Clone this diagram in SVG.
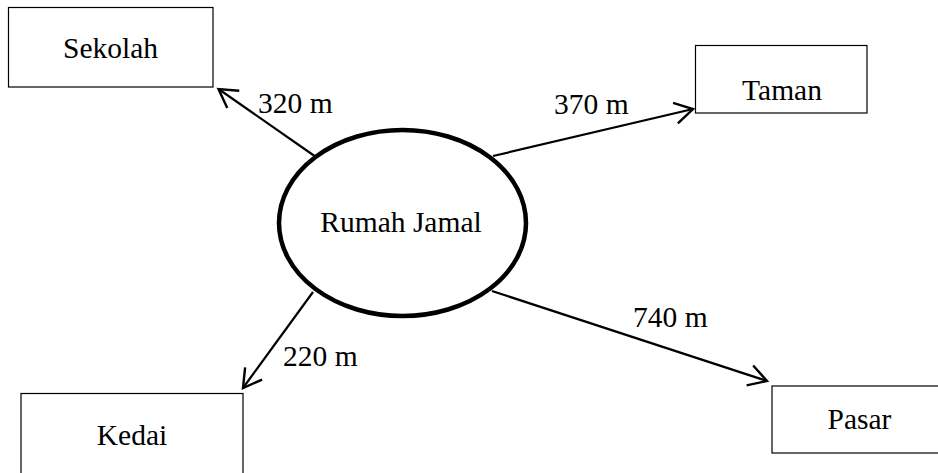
<svg xmlns="http://www.w3.org/2000/svg" width="938" height="473" viewBox="0 0 938 473">
  <style>
    .box { fill: #ffffff; stroke: #000000; stroke-width: 1.2; }
    .lbl { font-family: "Liberation Serif", "Times New Roman", serif; font-size: 29.5px; fill: #000000; }
    .mid { text-anchor: middle; }
    .conn { stroke: #000000; stroke-width: 2.2; fill: none; marker-end: url(#arrow); }
  </style>
  <defs>
    <marker id="arrow" markerUnits="userSpaceOnUse" markerWidth="40" markerHeight="40" refX="0" refY="0" viewBox="-20 -20 40 40" orient="auto" overflow="visible">
      <path d="M-18,-10.5 L0,0 L-18,10.5" fill="none" stroke="#000000" stroke-width="2.4" stroke-linejoin="miter"/>
    </marker>
  </defs>
  <rect x="0" y="0" width="938" height="473" fill="#ffffff"/>

  <g id="connectors">
    <line class="conn" x1="316" y1="157" x2="218.5" y2="89"/>
    <line class="conn" x1="493" y1="156" x2="693" y2="109"/>
    <line class="conn" x1="313" y1="292" x2="243" y2="388"/>
    <line class="conn" x1="492" y1="291" x2="767" y2="381"/>
    <text class="lbl" x="258" y="113">320 m</text>
    <text class="lbl" x="554" y="114">370 m</text>
    <text class="lbl" x="283" y="366">220 m</text>
    <text class="lbl" x="633" y="327">740 m</text>
  </g>

  <g id="rumah-jamal">
    <ellipse cx="402.5" cy="223" rx="123.5" ry="93" fill="#ffffff" stroke="#000000" stroke-width="4.5"/>
    <text class="lbl mid" x="401" y="232">Rumah Jamal</text>
  </g>

  <g id="sekolah">
    <rect class="box" x="8.5" y="7.5" width="204.5" height="79.5"/>
    <text class="lbl mid" x="110.5" y="58">Sekolah</text>
  </g>

  <g id="taman">
    <rect class="box" x="695.5" y="45.5" width="171.5" height="67.5"/>
    <text class="lbl mid" x="782" y="100">Taman</text>
  </g>

  <g id="kedai">
    <rect class="box" x="21" y="393.5" width="222" height="100"/>
    <text class="lbl mid" x="132" y="445">Kedai</text>
  </g>

  <g id="pasar">
    <rect class="box" x="772" y="386" width="180" height="67"/>
    <text class="lbl mid" x="859.5" y="429">Pasar</text>
  </g>
</svg>
